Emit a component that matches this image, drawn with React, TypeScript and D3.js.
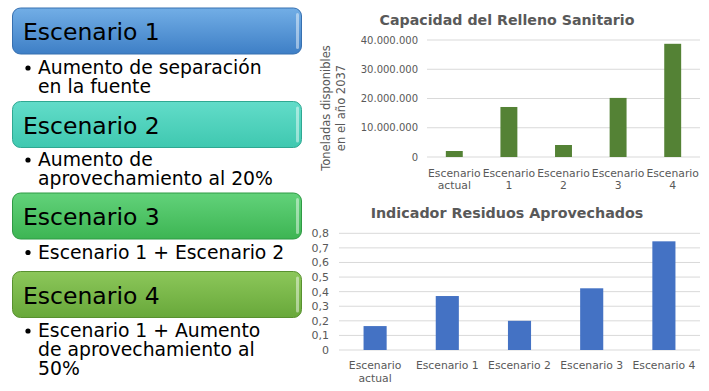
import React from 'react';
import * as d3 from 'd3';

const scenarios = ['Escenario 1', 'Escenario 2', 'Escenario 3', 'Escenario 4'];
const scenarioNotes = [
  ['Aumento de separación', 'en la fuente'],
  ['Aumento de', 'aprovechamiento al 20%'],
  ['Escenario 1 + Escenario 2'],
  ['Escenario 1 + Aumento', 'de aprovechamiento al', '50%'],
];
const boxColors = [
  ['#72aee6', '#3e7fc6', '#3770b0'],
  ['#62dcc9', '#3fc8b0', '#2fa892'],
  ['#62d27a', '#3db553', '#2f9a44'],
  ['#8cc75a', '#68a83a', '#58912f'],
];

const capCategories = [['Escenario', 'actual'], ['Escenario', '1'], ['Escenario', '2'], ['Escenario', '3'], ['Escenario', '4']];
const capValues = [2050000, 17100000, 4100000, 20200000, 38700000];
const capTicks = [0, 10000000, 20000000, 30000000, 40000000];

const indCategories = [['Escenario', 'actual'], ['Escenario 1'], ['Escenario 2'], ['Escenario 3'], ['Escenario 4']];
const indValues = [0.164, 0.37, 0.2, 0.423, 0.745];
const indTicks = [0, 0.1, 0.2, 0.3, 0.4, 0.5, 0.6, 0.7, 0.8];

const gray = '#595959';
const grid = '#d9d9d9';

// layout of the left hand boxes
const boxTop = [8, 101.5, 193, 271.5];
const boxH = 46;
const noteBase = [74, 166, 258.5, 337];
const noteStep = 19;

const fmtCap = (v: number) => d3.format(',')(v).replace(/,/g, '.');
const fmtInd = (v: number) => (v === 0 ? '0' : d3.format('.1f')(v).replace('.', ','));

export default function App() {
  // top chart
  const capX = d3.scaleBand().domain(capCategories.map((_, i) => String(i))).range([427, 700]).paddingInner(0.69).paddingOuter(0.345);
  const capY = d3.scaleLinear().domain([0, 40000000]).range([157, 40]);

  // bottom chart
  const indX = d3.scaleBand().domain(indCategories.map((_, i) => String(i))).range([339, 700]).paddingInner(0.68).paddingOuter(0.34);
  const indY = d3.scaleLinear().domain([0, 0.8]).range([350, 233.3]);

  return (
    <svg width={709} height={391} style={{ position: 'absolute', left: 0, top: 0 }}>
      <defs>
        {boxColors.map((c, i) => (
          <linearGradient key={i} id={`bx${i}`} x1="0" y1="0" x2="0" y2="1">
            <stop offset="0" stopColor={c[0]} />
            <stop offset="1" stopColor={c[1]} />
          </linearGradient>
        ))}
      </defs>

      {scenarios.map((s, i) => (
        <g key={s} fontFamily="DejaVu Sans">
          <rect x={12.5} y={boxTop[i]} width={289} height={boxH} rx={8} fill={`url(#bx${i})`} stroke={boxColors[i][2]} strokeWidth={1} />
          <rect x={296} y={boxTop[i] + 5} width={3} height={boxH - 10} rx={1.5} fill="#ffffff" opacity={0.45} />
          <text x={23} y={boxTop[i] + 32} fontSize={23.5} fill="#000">{s}</text>
          {scenarioNotes[i].map((line, j) => (
            <text key={j} x={38} y={noteBase[i] + j * noteStep} fontSize={18.8} fill="#000">{line}</text>
          ))}
          <circle cx={28} cy={noteBase[i] - 6} r={2.6} fill="#000" />
        </g>
      ))}

      {/* Capacidad del Relleno Sanitario */}
      <g fontFamily="DejaVu Sans" fill={gray}>
        <text x={507} y={25} textAnchor="middle" fontSize={14.2} fontWeight="bold">Capacidad del Relleno Sanitario</text>
        {capTicks.map((t) => (
          <g key={t}>
            <line x1={427} x2={700} y1={capY(t)} y2={capY(t)} stroke={grid} />
            <text x={418} y={capY(t) + 3.5} textAnchor="end" fontSize={10}>{fmtCap(t)}</text>
          </g>
        ))}
        {capValues.map((v, i) => (
          <rect key={i} x={capX(String(i))} y={capY(v)} width={capX.bandwidth()} height={capY(0) - capY(v)} fill="#548235" />
        ))}
        {capCategories.map((lines, i) => (
          <text key={i} textAnchor="middle" fontSize={10.8}>
            {lines.map((l, j) => (
              <tspan key={j} x={(capX(String(i)) as number) + capX.bandwidth() / 2} y={177 + j * 11.5}>{l}</tspan>
            ))}
          </text>
        ))}
        <text transform="translate(330,108) rotate(-90)" textAnchor="middle" fontSize={11.5}>Toneladas disponibles</text>
        <text transform="translate(345,108) rotate(-90)" textAnchor="middle" fontSize={11.5}>en el año 2037</text>
      </g>

      {/* Indicador Residuos Aprovechados */}
      <g fontFamily="DejaVu Sans" fill={gray}>
        <text x={507} y={218} textAnchor="middle" fontSize={14.3} fontWeight="bold">Indicador Residuos Aprovechados</text>
        {indTicks.map((t) => (
          <g key={t}>
            <line x1={339} x2={700} y1={indY(t)} y2={indY(t)} stroke={grid} />
            <text x={329} y={indY(t) + 4} textAnchor="end" fontSize={11}>{fmtInd(t)}</text>
          </g>
        ))}
        {indValues.map((v, i) => (
          <rect key={i} x={indX(String(i))} y={indY(v)} width={indX.bandwidth()} height={indY(0) - indY(v)} fill="#4472c4" />
        ))}
        {indCategories.map((lines, i) => (
          <text key={i} textAnchor="middle" fontSize={10.8}>
            {lines.map((l, j) => (
              <tspan key={j} x={(indX(String(i)) as number) + indX.bandwidth() / 2} y={369 + j * 13}>{l}</tspan>
            ))}
          </text>
        ))}
      </g>
    </svg>
  );
}
